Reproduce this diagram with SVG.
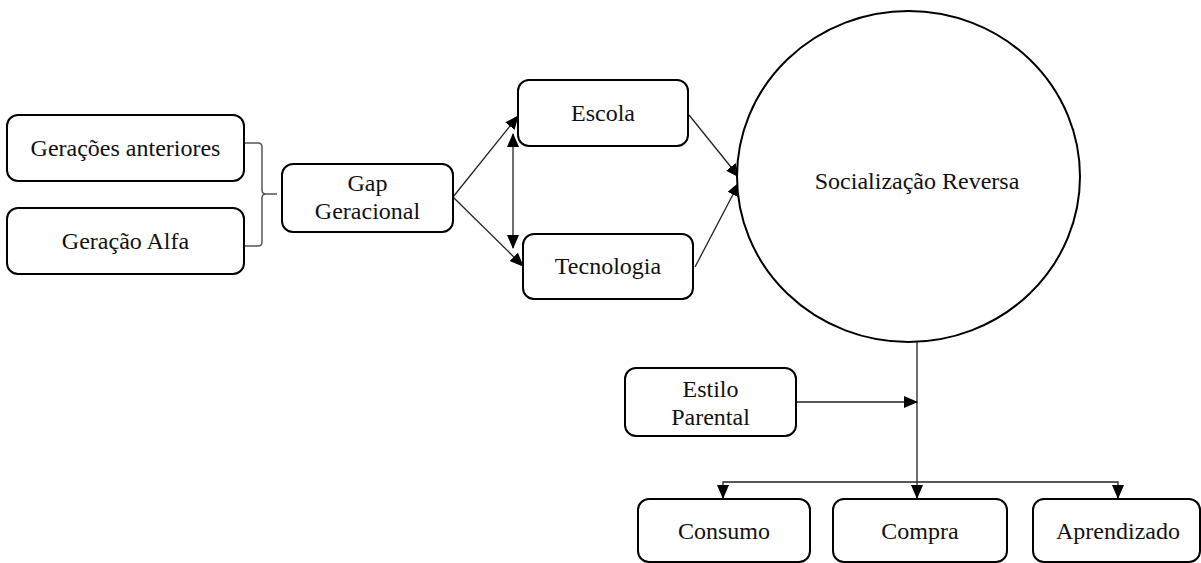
<svg xmlns="http://www.w3.org/2000/svg" width="1201" height="563" viewBox="0 0 1201 563">
<style>
.box{fill:#fff;stroke:#000;stroke-width:2}
.t{font-family:"Liberation Serif","Times New Roman",serif;font-size:24px;fill:#111;text-anchor:middle}
.c{fill:none;stroke:#222;stroke-width:1.3}
.br{fill:none;stroke:#555;stroke-width:1.5}
</style>
<defs>
<marker id="ah" markerUnits="userSpaceOnUse" markerWidth="14" markerHeight="12" refX="13" refY="6" orient="auto-start-reverse">
<path d="M0,0 L14,6 L0,12 z" fill="#000"/>
</marker>
</defs>
<rect width="1201" height="563" fill="#fff"/>
<g id="connectors">
<path class="br" d="M245,143 H258 Q262,143 262,147 V190 Q262,194 266,194 H277 M266,194 Q262,194 262,198 V242 Q262,246 258,246 H245"/>
<line class="c" x1="453" y1="197" x2="518" y2="116" marker-end="url(#ah)"/>
<line class="c" x1="453" y1="197" x2="523" y2="266" marker-end="url(#ah)"/>
<line class="c" x1="513" y1="134" x2="513" y2="248" marker-start="url(#ah)" marker-end="url(#ah)"/>
<line class="c" x1="689" y1="115" x2="739" y2="177" marker-end="url(#ah)"/>
<line class="c" x1="695" y1="267" x2="739" y2="183" marker-end="url(#ah)"/>
<line class="c" x1="917" y1="342" x2="917" y2="498" marker-end="url(#ah)"/>
<line class="c" x1="796" y1="402" x2="917" y2="402" marker-end="url(#ah)"/>
<path class="c" d="M723,498 V482 H1118 V498" marker-start="url(#ah)" marker-end="url(#ah)"/>
</g>
<g id="n-geracoes"><rect class="box" x="7" y="115" width="237" height="66" rx="11"/><text class="t" x="125.5" y="156">Gerações anteriores</text></g>
<g id="n-alfa"><rect class="box" x="7" y="208" width="237" height="66" rx="11"/><text class="t" x="125.5" y="249">Geração Alfa</text></g>
<g id="n-gap"><rect class="box" x="282" y="164" width="171" height="68" rx="11"/><text class="t" x="367.5" y="191">Gap</text><text class="t" x="367.5" y="219">Geracional</text></g>
<g id="n-escola"><rect class="box" x="518" y="80" width="170" height="66" rx="11"/><text class="t" x="603" y="121">Escola</text></g>
<g id="n-tecnologia"><rect class="box" x="523" y="234" width="170" height="65" rx="11"/><text class="t" x="608" y="274">Tecnologia</text></g>
<g id="n-socializacao"><ellipse class="box" cx="908.5" cy="176.5" rx="171.5" ry="165.5"/><text class="t" x="917" y="189">Socialização Reversa</text></g>
<g id="n-estilo"><rect class="box" x="625" y="368" width="171" height="68" rx="11"/><text class="t" x="710.5" y="397">Estilo</text><text class="t" x="710.5" y="425">Parental</text></g>
<g id="n-consumo"><rect class="box" x="638" y="499" width="172" height="63" rx="11"/><text class="t" x="724" y="539">Consumo</text></g>
<g id="n-compra"><rect class="box" x="833" y="499" width="174" height="63" rx="11"/><text class="t" x="920" y="539">Compra</text></g>
<g id="n-aprendizado"><rect class="box" x="1033" y="499" width="167" height="63" rx="11"/><text class="t" x="1118" y="539">Aprendizado</text></g>
</svg>
